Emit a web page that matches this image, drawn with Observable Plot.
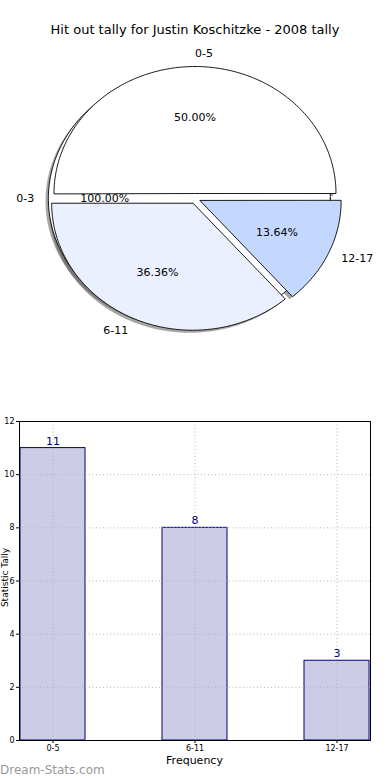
<!DOCTYPE html>
<html><head><meta charset="utf-8">
<script src="https://cdn.jsdelivr.net/npm/d3@7"></script>
<script src="https://cdn.jsdelivr.net/npm/@observablehq/plot@0.6"></script>
<style>
html,body{margin:0;padding:0;background:#fff;}
#wrap{position:relative;width:390px;height:780px;overflow:hidden;font-family:"DejaVu Sans",sans-serif;color:#000;}
#wrap svg{position:absolute;left:0;}
.t{position:absolute;white-space:nowrap;z-index:2;line-height:1;}
</style></head><body>
<div id="wrap"></div>
<script>
const title = "Hit out tally for Justin Koschitzke - 2008 tally";
const categories = ["0-5", "6-11", "12-17"];
const tally = [11, 8, 3];
const pieColors = ["#ffffff", "#ebf0ff", "#c4d8ff"];
const extraLabel = "0-3";
const extraPct = "100.00%";
const yTicks = [0, 2, 4, 6, 8, 10, 12];
const xLabel = "Frequency";
const yLabel = "Statistic Tally";
const watermark = "Dream-Stats.com";

const wrap = document.getElementById("wrap");
const total = d3.sum(tally);
const explode = 0.04, shadowOff = [-0.02, -0.02];
const deg = Math.PI / 180;

// wedges: the degenerate full "0-3" slice first, then the real ones
const wedges = [{key: extraLabel, a0: 0, a1: 360, mid: 180, fill: "#ffffff", pct: extraPct, full: true}];
let cum = 0;
categories.forEach((c, i) => {
  const a0 = cum / total * 360; cum += tally[i]; const a1 = cum / total * 360;
  wedges.push({key: c, a0, a1, mid: (a0 + a1) / 2, fill: pieColors[i], pct: (tally[i] / total * 100).toFixed(2) + "%"});
});
function pts(w, off) {
  const cx = explode * Math.cos(w.mid * deg) + off[0], cy = explode * Math.sin(w.mid * deg) + off[1];
  const out = [];
  if (!w.full) out.push({k: w.key, x: cx, y: cy});
  const n = Math.max(2, Math.ceil(w.a1 - w.a0));
  for (let j = 0; j <= n; j++) {
    const a = (w.a0 + (w.a1 - w.a0) * j / n) * deg;
    out.push({k: w.key, x: cx + Math.cos(a), y: cy + Math.sin(a)});
  }
  return out;
}
const labels = wedges.map(w => {
  const cx = explode * Math.cos(w.mid * deg), cy = explode * Math.sin(w.mid * deg);
  return {
    name: w.key, pct: w.pct,
    lx: cx + 1.1 * Math.cos(w.mid * deg), ly: cy + 1.1 * Math.sin(w.mid * deg),
    px: cx + 0.6 * Math.cos(w.mid * deg), py: cy + 0.6 * Math.sin(w.mid * deg),
    anchor: Math.cos(w.mid * deg) > 0 ? "start" : "end"
  };
});

const pieMarks = [];
wedges.forEach(w => pieMarks.push(Plot.line(pts(w, shadowOff), {x: "x", y: "y", curve: "linear-closed", fill: "#4d4d4d", fillOpacity: 0.5, stroke: "none"})));
wedges.forEach(w => pieMarks.push(Plot.line(pts(w, [0, 0]), {x: "x", y: "y", curve: "linear-closed", fill: w.fill, stroke: "#000", strokeWidth: 0.9})));
labels.forEach(l => {
  pieMarks.push(Plot.text([l], {x: "lx", y: "ly", text: "name", textAnchor: l.anchor, fontSize: 11, fill: "#000"}));
  pieMarks.push(Plot.text([l], {x: "px", y: "py", text: "pct", textAnchor: "middle", fontSize: 11, fill: "#000"}));
});

const pie = Plot.plot({
  width: 390, height: 390, margin: 0,
  style: {fontFamily: "DejaVu Sans", background: "transparent", overflow: "visible"},
  x: {domain: [-1, 1], range: [53.5, 335.5], axis: null},
  y: {domain: [-1, 1], range: [325.1, 71.1], axis: null},
  marks: pieMarks
});
pie.style.top = "0px";
wrap.appendChild(pie);

const bars = categories.map((c, i) => ({c, v: tally[i]}));
const bar = Plot.plot({
  width: 390, height: 380, marginLeft: 19, marginRight: 20, marginTop: 21, marginBottom: 40,
  style: {fontFamily: "DejaVu Sans", fontSize: "8px", color: "#000", background: "transparent"},
  x: {type: "band", domain: categories, paddingInner: 0.545, paddingOuter: 0, align: 0.5, label: null},
  y: {domain: [0, 12], label: null},
  marks: [
    Plot.barY(bars, {x: "c", y: "v", fill: "#ccccE6", stroke: "#000080", strokeWidth: 1}),
    Plot.gridY(yTicks, {stroke: "#b4b4b4", strokeOpacity: 1, strokeDasharray: "1,2.5"}),
    Plot.gridX(categories, {stroke: "#b4b4b4", strokeOpacity: 1, strokeDasharray: "1,2.5"}),
    Plot.frame({stroke: "#000"}),
    Plot.axisY(yTicks, {tickSize: 3, tickPadding: 2, fontSize: 8, label: null}),
    Plot.axisX(categories, {tickSize: 3, tickPadding: 2, fontSize: 8, label: null}),
    Plot.text(bars, {x: "c", y: "v", text: "v", lineAnchor: "bottom", dy: -3.5, fill: "#000080", fontSize: 11})
  ]
});
bar.style.top = "400px";
wrap.appendChild(bar);

function addText(txt, css) {
  const d = document.createElement("div");
  d.className = "t"; d.textContent = txt;
  Object.assign(d.style, css);
  wrap.appendChild(d);
}
addText(title, {left: "0px", width: "390px", textAlign: "center", top: "23px", fontSize: "13px"});
addText(xLabel, {left: "0px", width: "389px", textAlign: "center", top: "755px", fontSize: "11px"});
addText(yLabel, {left: "-40px", width: "90px", textAlign: "center", top: "573px", fontSize: "9px", transform: "rotate(-90deg)"});
addText(watermark, {left: "0px", top: "764px", fontSize: "12px", color: "#999"});
</script>
</body></html>
